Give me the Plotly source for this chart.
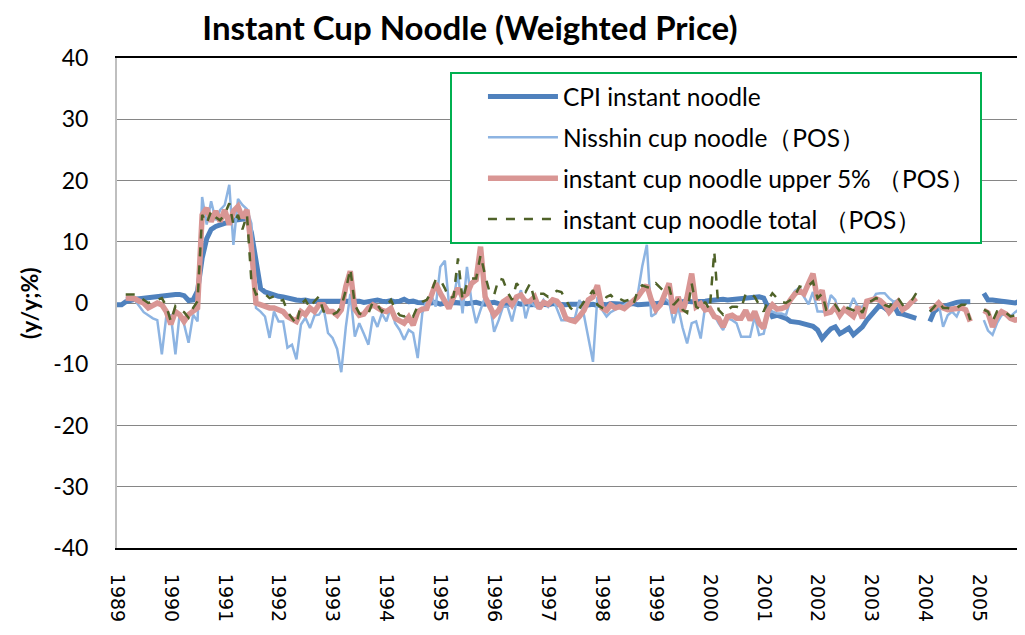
import pandas as pd
import plotly.graph_objects as go

# ---- data (monthly, Jan 1989 onward; y/y %) ----
months = pd.date_range("1989-01-01", periods=203, freq="MS")
year_labels = [str(y) for y in range(1989, 2006)]
year_ticks = [f"{y}-01-01" for y in range(1989, 2006)]
y_ticks = [-40, -30, -20, -10, 0, 10, 20, 30, 40]
y_tick_labels = ["-40", "-30", "-20", "-10", "0", "10", "20", "30", "40"]

N = None
cpi_instant_noodle = [
    -0.3, -0.3, 0.2, 0.5, 0.6, 0.7, 0.8, 0.9, 1.0, 1.0,
    1.1, 1.2, 1.3, 1.4, 1.4, 1.2, 0.4, 0.5, 2.0, 7.3,
    10.5, 12.0, 12.5, 12.8, 13.0, 13.3, 13.5, 13.6, 13.8, 13.8,
    11.5, 7.0, 2.4, 1.8, 1.5, 1.3, 1.1, 1.0, 0.8, 0.6,
    0.5, 0.4, 0.5, 0.3, 0.3, 0.2, 0.3, 0.2, 0.2, 0.3,
    0.3, 0.2, 0.4, 0.2, 0.3, 0.1, 0.2, 0.3, 0.5, 0.3,
    0.2, 0.4, 0.2, 0.3, 0.6, 0.2, 0.3, 0.1, 0.0, -0.1,
    0.0, 0.1, -0.2, 0.0, -0.1, 0.1, 0.0, -0.2, -0.1, 0.0,
    0.1, -0.1, -0.2, 0.0, 0.1, -0.1, -0.2, -0.3, -0.1, 0.0,
    -0.2, -0.1, -0.3, -0.2, -0.1, -0.2, -0.3, -0.1, -0.2, -0.3,
    -0.3, -0.2, -0.3, -0.2, -0.1, -0.3, -0.2, -0.4, -0.2, -0.3,
    -0.1, -0.2, -0.3, -0.2, -0.2, -0.1, -0.3, -0.2, -0.1, 0.0,
    -0.1, 0.0, 0.1, 0.0, 0.1, 0.2, 0.2, 0.3, 0.2, 0.3,
    0.4, 0.3, 0.4, 0.5, 0.5, 0.6, 0.5, 0.6, 0.7, 0.8,
    0.7, 0.8, 0.9, 1.0, 0.8, -1.0, -2.2, -2.0, -2.2, -2.5,
    -3.0, -3.0, -3.2, -3.4, -3.6, -3.8, -4.4, -5.8, -5.0, -4.2,
    -3.9, -5.0, -4.6, -4.1, -5.2, -4.6, -3.9, -2.8, -2.0, -1.1,
    -0.3, -0.8, -1.4, -0.3, -1.7, -1.8, -2.0, -2.2, -2.5, N,
    N, -3.0, -1.4, -0.8, -0.6, -0.3, 0.0, 0.1, 0.2, 0.2,
    0.2, N, N, 1.6, 0.5, 0.5, 0.3, 0.3, 0.2, 0.1,
    0.0, 0.3, 0.3,
]

nisshin_cup_noodle = [
    N, N, 0.8, 0.9, 0.5, -0.5, -1.5, -2.0, -2.5, -2.8,
    -8.4, -2.2, -2.0, -8.4, -1.9, -3.5, -6.5, -1.9, -3.0, 17.3,
    12.8, 16.6, 13.5, 15.2, 16.0, 19.3, 9.5, 17.0, 16.0, 15.3,
    13.0, -0.8, -1.4, -2.2, -5.7, -1.4, -3.0, -3.0, -7.3, -6.8,
    -9.2, -3.5, -2.4, -4.1, -2.0, -1.9, -0.8, -4.9, -5.7, -7.5,
    -11.3, -3.9, 1.5, -5.5, -3.3, -5.0, -6.8, -2.2, -3.9, -1.7,
    -3.0, -0.5, -3.3, -4.4, -6.0, -4.4, -4.9, -9.0, -1.7, 0.5,
    1.3, -0.6, 5.9, 6.9, -0.2, 0.8, 4.8, -1.7, 5.9, 0.2,
    -3.3, -1.1, 1.0, 0.2, -4.7, -2.8, -0.6, -0.6, -3.0, 0.2,
    2.1, -2.5, 0.2, -0.5, -0.9, 0.5, -0.6, 0.8, -0.9, -2.8,
    -2.8, -2.5, -2.5, 0.5, -2.0, -6.0, -9.6, 1.0, -1.1, -2.2,
    -1.5, -1.1, -0.6, -0.3, 0.2, 0.2, 1.5, 6.0, 9.5, -2.2,
    -1.7, 0.2, 0.8, 0.2, -3.3, -0.6, -4.0, -6.6, -3.3, -3.0,
    -5.8, -0.6, -1.2, -2.0, -3.3, -4.4, -2.5, -2.8, -3.3, -5.5,
    -5.5, -5.5, -2.2, -5.2, -5.0, -1.5, -1.4, -1.7, -1.7, -2.0,
    0.6, 2.0, 2.5, 1.0, -0.2, 1.8, -1.4, -1.4, -1.6, 1.3,
    0.5, -2.2, -1.0, -1.0, 0.8, -0.6, -0.6, 0.2, 0.2, 1.5,
    1.6, 1.6, 0.8, 0.2, 0.5, -0.6, -0.6, 0.2, 0.3, N,
    N, -1.4, -0.6, -0.1, -3.9, -2.0, -1.4, -2.2, -0.5, -1.0,
    -2.8, N, N, -2.8, -4.5, -5.2, -3.3, -2.0, -1.7, -2.2,
    -1.5, -1.0, -0.6,
]

cup_noodle_upper5 = [
    N, N, 0.8, 0.8, 0.7, 0.3, 0.0, -0.8, -0.3, 0.0,
    -0.3, -1.4, -3.5, -1.4, -1.9, -3.0, -1.9, -1.2, -0.8, 14.4,
    15.5, 13.3, 15.0, 13.3, 15.2, 12.8, 15.0, 15.8, 13.9, 15.2,
    9.0, 0.0, -0.3, -0.5, -0.8, -0.8, -1.2, -1.4, -2.2, -2.6,
    -3.0, -1.4, -1.9, -0.8, -1.4, -0.3, -0.3, -1.4, -1.4, -2.0,
    -1.1, 2.7, 5.2, -1.0, -2.0, -1.8, -0.8, -0.3, -0.8, -1.2,
    -1.4, -0.9, -2.5, -3.0, -3.3, -2.3, -3.6, -1.4, -1.0, -0.9,
    1.0, 3.2, 1.6, 0.2, -0.9, 1.0, 2.4, 1.0, 1.5, 3.2,
    3.8, 9.2, 1.0, -0.5, -2.0, -1.2, 0.2, 0.7, -0.3, 1.0,
    1.3, 0.2, 0.3, 1.0, -0.9, 0.1, -0.2, 0.5, 0.3, -0.6,
    -2.5, -2.8, -3.0, -2.2, -1.2, 0.5, 1.0, 2.9, -0.8, -1.2,
    -0.3, -0.8, -0.6, -0.9, -0.3, 0.2, 1.0, 2.0, 2.9, 0.5,
    -1.1, -0.3, 1.3, 3.2, -1.7, 1.0, -1.4, 1.0, 4.8, -0.6,
    -0.1, -1.1, -0.9, -2.2, -2.5, -3.9, -2.2, -2.0, -2.5, -2.5,
    -1.2, -2.8, -1.4, -3.3, -4.1, -1.2, -0.3, -1.0, -0.9, -0.6,
    0.5, 1.5, 2.0, 1.5, 3.2, 4.8, 0.5, 2.1, -1.7, -1.5,
    -0.6, -2.0, -1.0, -1.5, -2.2, -0.6, -2.5, 0.3, 0.5, 0.7,
    0.4, -0.3, -1.5, -0.6, 0.2, -1.1, -0.6, 0.2, 0.8, N,
    N, -1.1, -0.8, 0.0, -0.8, -1.1, -1.1, -0.9, -0.8, -1.1,
    -3.0, N, N, -1.2, -1.6, -3.9, -2.2, -1.4, -1.8, -2.5,
    -2.8, -2.6, 0.0,
]

cup_noodle_total = [
    N, N, 1.4, 1.4, 1.4, 1.0, 0.5, 0.0, 0.2, 0.5,
    0.8, -0.5, -3.0, -0.5, -1.0, -1.5, -2.4, -0.8, 0.3, 14.4,
    13.0, 15.0, 14.0, 13.5, 14.5, 16.3, 12.8, 14.4, 12.0, 14.4,
    3.5, 1.4, 1.6, 1.5, 0.8, 1.1, 0.3, 0.5, -1.4, -2.5,
    -3.5, -0.2, 0.5, -0.8, 0.3, 1.1, -1.4, -1.4, -1.9, -1.5,
    -0.6, 2.1, 5.6, -0.3, -1.7, -2.0, -1.7, 0.2, -0.3, -1.4,
    -0.5, 0.5, -1.0, -2.0, -2.2, -1.7, -2.2, -0.5, 0.2, 0.5,
    1.8, 3.8, 3.8, 2.4, 0.8, 1.0, 7.3, 0.5, 3.2, 4.0,
    4.0, 7.8, 4.5, 1.8, 1.3, 4.0, 3.8, 1.8, 0.5, 3.2,
    2.4, 1.8, 3.2, 0.5, 1.5, 1.5, 1.0, 1.5, 2.0, 1.8,
    0.5, -0.8, -1.4, -0.9, 0.2, 1.0, 2.1, -0.3, -0.8, 1.0,
    1.3, 0.5, 0.7, 0.3, 0.5, -0.3, 2.1, 2.9, 2.6, 2.4,
    3.2, 2.4, 1.8, 2.6, -0.3, 0.5, -1.1, -1.6, 3.2, -0.6,
    -1.1, 0.2, -1.1, 8.4, -1.1, -1.9, -1.1, -0.6, -0.6, -0.9,
    1.5, 1.6, 1.0, -0.3, -1.4, 0.5, 1.6, 0.8, 0.2, 0.0,
    0.5, 1.2, 2.7, 2.5, 2.8, 3.5, 0.8, 1.5, -1.1, -0.9,
    -0.3, -1.4, -0.6, -0.9, -1.2, -0.6, -1.6, 0.2, 0.3, 0.8,
    0.6, -0.3, -0.6, 0.2, 0.8, -0.3, 0.1, 0.4, 1.6, N,
    N, -1.4, -0.6, 0.2, -0.8, -0.8, -1.1, -0.8, -0.3, -0.3,
    -2.8, N, N, -1.1, -1.4, -3.0, -1.4, -1.6, -1.6, -2.2,
    -2.0, -1.5, 0.0,
]

series = [
    ("CPI instant noodle", cpi_instant_noodle, dict(color="#4F81BD", width=5)),
    ("Nisshin cup noodle（POS）", nisshin_cup_noodle, dict(color="#8DB4E2", width=2.5)),
    ("instant cup noodle upper 5% （POS）", cup_noodle_upper5, dict(color="#D99694", width=5.5)),
    ("instant cup noodle total （POS）", cup_noodle_total, dict(color="#4F6228", width=2.5, dash="dash")),
]

fig = go.Figure()
for i, (name, vals, line) in enumerate(series):
    fig.add_trace(go.Scatter(
        x=months, y=vals, name=name, mode="lines", line=line,
        connectgaps=False, legendgroup=f"g{i}",
    ))

fig.update_layout(
    width=1025, height=635,
    margin=dict(l=109, r=8, t=50, b=95, autoexpand=False),
    paper_bgcolor="white", plot_bgcolor="white",
    title=dict(text="<b>Instant Cup Noodle (Weighted Price)</b>",
               x=0.4507, xanchor="center", y=0.9685, yanchor="middle",
               font=dict(family="Lato", size=33, color="black")),
    legend=dict(x=0.3667, y=0.9714, xanchor="left", yanchor="top",
                bgcolor="white", bordercolor="#00B050", borderwidth=2,
                font=dict(family="Lato", size=24.5, color="black"),
                tracegroupgap=6, itemwidth=70, indentation=31,
                entrywidth=525, entrywidthmode="pixels"),
    showlegend=True,
)
fig.update_xaxes(
    type="date", range=["1989-01-01", "2005-11-07"],
    tickvals=year_ticks, ticktext=year_labels, tickangle=90,
    tickfont=dict(family="DejaVu Sans", size=19, color="black"),
    showgrid=False, showline=True, linecolor="black", linewidth=2, mirror=True,
    ticks="", ticklabelstandoff=20, automargin=False,
)
fig.update_yaxes(
    range=[-40, 40], tickvals=y_ticks, ticktext=y_tick_labels,
    tickfont=dict(family="Lato", size=23, color="black"),
    showgrid=True, gridcolor="#868686", gridwidth=1.3,
    showline=True, linecolor="#BFBFBF", linewidth=2,
    zeroline=False, ticks="", ticklabelstandoff=22, automargin=False,
)
fig.add_annotation(
    text="<b>(y/y;%)</b>", textangle=-90, xref="paper", yref="paper",
    x=-0.0969, y=0.5, xanchor="center", yanchor="middle", showarrow=False,
    font=dict(family="Lato", size=23, color="black"),
)
fig.write_html("out.html")
